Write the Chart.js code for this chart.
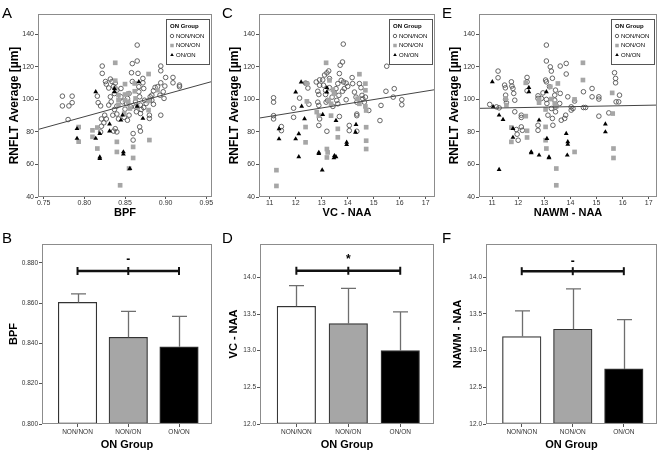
<!DOCTYPE html>
<html>
<head>
<meta charset="utf-8">
<script src="https://cdn.jsdelivr.net/npm/chart.js"></script>
<style>
  body { margin: 0; background: #fff; }
  #wrap { position: relative; width: 662px; height: 454px; font-family: "Liberation Sans", Arial, sans-serif; }
  .panel { position: absolute; }
  .letter { position: absolute; font-size: 15px; line-height: 15px; color: #000; }
</style>
</head>
<body>
<div id="wrap">
  <div class="panel" style="left:0;top:0"><canvas id="chartA" width="220" height="220"></canvas></div>
  <div class="panel" style="left:220px;top:0"><canvas id="chartC" width="220" height="220"></canvas></div>
  <div class="panel" style="left:440px;top:0"><canvas id="chartE" width="222" height="220"></canvas></div>
  <div class="panel" style="left:0;top:220px"><canvas id="chartB" width="220" height="234"></canvas></div>
  <div class="panel" style="left:220px;top:220px"><canvas id="chartD" width="220" height="234"></canvas></div>
  <div class="panel" style="left:440px;top:220px"><canvas id="chartF" width="222" height="234"></canvas></div>
  <div class="letter" style="left:2px;top:5px">A</div>
  <div class="letter" style="left:222px;top:5px">C</div>
  <div class="letter" style="left:442px;top:5px">E</div>
  <div class="letter" style="left:2px;top:230px">B</div>
  <div class="letter" style="left:222px;top:230px">D</div>
  <div class="letter" style="left:442px;top:230px">F</div>
</div>
<script>
const groups = ['NON/NON', 'NON/ON', 'ON/ON'];

// scatter ticks
const rnfltTicks = [40, 60, 80, 100, 120, 140];
const bpfTicks = [0.75, 0.80, 0.85, 0.90, 0.95];
const naaTicks = [11, 12, 13, 14, 15, 16, 17];

// A: BPF vs RNFLT
const bpfNonNon = [[0.773,102],[0.773,96],[0.781,96],[0.785,102],[0.785,98],[0.780,87.6],
  [0.816,102],[0.817,98],[0.82,96],[0.821,88],[0.821,83.5],[0.82,80],[0.824,85.6],
  [0.822,120.5],[0.822,116],[0.826,111],[0.827,109.4],[0.83,107],[0.832,112.5],[0.834,111],[0.836,108],
  [0.838,110],[0.84,105.7],[0.837,103.6],[0.832,101.6],[0.83,96.5],[0.833,98.5],[0.827,88],[0.825,90.3],
  [0.835,90.3],[0.837,93.8],[0.84,95.9],[0.84,91],[0.838,82],[0.84,80],[0.836,80.5],
  [0.845,101.6],[0.845,106.7],[0.847,98.5],[0.842,88],[0.849,89],[0.85,94],[0.852,97.5],[0.853,100.6],
  [0.855,103.6],[0.855,90.3],[0.853,87.2],[0.857,95.4],[0.859,122],[0.858,116.4],[0.859,111],[0.86,79],
  [0.86,75],[0.863,98.5],[0.863,95.4],[0.864,92.4],[0.865,133.4],[0.865,123.6],[0.866,116],[0.867,107.8],
  [0.867,104.7],[0.868,101.6],[0.869,96.5],[0.87,93.8],[0.869,91.3],[0.868,83.1],[0.869,80.5],
  [0.872,112.9],[0.872,110.2],[0.873,106.7],[0.874,99.5],[0.876,97.5],[0.873,95],
  [0.881,101.6],[0.88,99.5],[0.883,102.6],[0.883,99.5],[0.885,105.3],[0.885,97],[0.88,90.3],[0.88,88.3],
  [0.887,107.4],[0.89,107.8],[0.893,102.6],[0.894,120.5],[0.894,117.6],[0.894,110.2],[0.894,90.3],
  [0.897,104.7],[0.898,100.6],[0.899,108.2],[0.9,113.5],[0.909,113.5],[0.909,110.2],[0.917,108.8],[0.917,107.8]];
const bpfNonOn = [[0.838,122.5],[0.838,111.5],[0.838,106.7],[0.842,96.5],[0.842,102.6],[0.842,99.5],
  [0.85,109.4],[0.85,103],[0.85,99.5],[0.849,91.3],[0.854,103.6],[0.854,98.5],[0.856,94.4],[0.862,109.8],
  [0.862,105],[0.863,100.6],[0.865,95.4],[0.86,70.8],[0.86,64],[0.855,57.5],[0.844,47.2],[0.84,73.9],
  [0.84,67.7],[0.879,115.6],[0.879,99],[0.879,93.4],[0.88,75],[0.89,105.7],[0.81,81],[0.81,77],
  [0.816,82.7],[0.816,69.8],[0.793,83],[0.793,74]];
const bpfOnOn = [[0.791,82],[0.791,76],[0.814,104.7],[0.819,79],[0.814,76],[0.819,64.6],[0.819,63.6],
  [0.831,84.8],[0.831,80.5],[0.837,106.7],[0.837,104.7],[0.845,87.2],[0.847,90.3],[0.848,67.7],
  [0.848,66.3],[0.856,57.5],[0.865,95.8],[0.867,110.8],[0.872,88.3]];
const bpfFit = [[0.743,81.5],[0.957,111]];

// C: VC-NAA vs RNFLT
const vcNonNon = [[11.15,101],[11.15,98.3],[11.15,90],[11.15,88],[11.45,83.3],[11.45,80.8],[11.92,89],
  [11.92,94.6],[12.15,100.8],[12.38,110],[12.43,109.7],[12.47,107],[12.51,97],[12.79,110.7],[12.85,105],
  [12.89,103],[12.92,112],[12.92,108.7],[12.85,98.3],[12.89,96.3],[12.92,88],[12.89,84],[13.04,112],
  [13.07,108.7],[13.11,115],[13.2,116.3],[13.27,117.5],[13.3,112.8],[13.3,107.2],[13.15,105.6],[13.15,103],
  [13.17,98.3],[13.23,99.4],[13.2,80.4],[13.43,95.7],[13.4,101.4],[13.49,104],[13.55,106.6],[13.58,99.4],
  [13.62,97.3],[13.62,109.7],[13.66,102.5],[13.68,115.9],[13.71,121],[13.8,123],[13.8,105],[13.83,134],
  [13.75,111.7],[13.84,110.7],[13.68,89.5],[13.87,106.6],[13.94,99.8],[13.94,110],[14,108],[14.06,84],
  [14.06,80.8],[14.17,113.4],[14.19,109.7],[14.26,104.5],[14.32,101.4],[14.35,98.3],[14.35,91],[14.35,90],
  [14.35,80.4],[14.45,109.7],[14.51,107.2],[14.55,102.5],[14.58,100.4],[14.64,98.3],[14.68,101.4],
  [14.81,93.2],[15.24,87],[15.28,96.3],[15.5,120.4],[15.47,105],[15.79,106.6],[15.75,101.4],[16.08,99.8],[16.08,96.7]];
const vcNonOn = [[13.17,122.5],[13.3,111.7],[13.27,99.4],[13.36,97.3],[13.43,106],[13.49,103.5],[12.81,92.2],
  [12.89,90],[12.43,109.7],[12.43,98.8],[12.38,83],[12.38,73.6],[13.2,69.5],[13.2,64.3],[13.23,67.4],
  [13.36,90],[13.62,81.9],[13.62,76.7],[11.26,56.5],[11.26,46.8],[14.45,115.5],[14.38,100.4],[14.45,97.3],
  [14.68,109.7],[14.68,105.6],[14.71,93.2],[14.71,82.9],[14.71,74.6],[14.71,69.5],[14.68,95.7]];
const vcOnOn = [[11.36,81.9],[11.36,75.7],[12,75.7],[12,104.5],[12.12,78.8],[12.12,64.7],[12.21,110.7],
  [12.23,95.7],[12.34,88],[12.89,67.4],[12.89,66.7],[13.02,56.5],[13.04,90.7],[13.2,107.2],[13.2,104.5],
  [13.49,65.4],[13.55,64.7],[13.47,64],[13.55,87],[13.96,73.6],[13.96,72.2],[14.3,79.8],[14.32,84.5]];
const vcFit = [[10.59,88.5],[17.36,106]];

// E: NAWM-NAA vs RNFLT
const nawmNonNon = [[10.91,96.9],[11.17,95.4],[11.23,117.4],[11.23,113.3],[11.27,94.8],[11.48,108.8],
  [11.51,107.1],[11.52,102.6],[11.52,100],[11.55,97.9],[11.74,110.8],[11.76,108.2],[11.8,106.7],[11.83,103.7],
  [11.87,99.5],[11.87,92.4],[11.93,81.5],[11.96,78.6],[12,74.9],[12.12,90.3],[12.12,88.9],[12.12,83.1],
  [12.16,81],[12.34,113.5],[12.34,110.8],[12.34,105.3],[12.76,102.2],[12.76,100.6],[12.76,84.1],[12.76,81],
  [12.89,100.6],[12.95,104],[13.05,111.9],[13.08,110.8],[13.08,133.4],[13.08,123.6],[13.08,100],[13.1,97.5],
  [13.14,90.3],[13.23,120],[13.27,117.4],[13.31,113],[13.2,107.8],[13.27,94.4],[13.31,88.3],[13.33,84.1],
  [13.4,102.6],[13.4,99.5],[13.43,105.7],[13.43,95.4],[13.43,92.4],[13.61,120.5],[13.59,97.5],[13.61,103.7],
  [13.65,87.2],[13.78,88.3],[13.82,90.3],[13.84,122.1],[13.84,115.6],[13.9,101.6],[14.03,95.4],[14.03,93.4],
  [14.1,94.4],[14.16,99],[14.5,104.7],[14.5,95],[14.58,95],[14.83,106.7],[14.83,101.6],[15.09,101.6],
  [15.09,100.2],[15.09,89.7],[15.47,91.7],[15.69,116.4],[15.73,112.9],[15.73,110.2],[15.75,98.5],
  [15.85,98.5],[15.88,102.6]];
const nawmNonOn = [[11.55,96.5],[11.52,100.5],[11.74,82.7],[11.74,73.9],[12.29,110.2],[12.29,89.7],
  [12.34,76.6],[12.34,80.7],[12.8,100],[12.8,98],[13.05,93.8],[13.05,83.1],[13.05,74.9],[13.08,69.8],
  [13.23,107.8],[13.27,100.2],[13.4,97.5],[13.46,95.8],[13.52,109.8],[13.46,57.5],[13.46,47.2],[14.16,67.7],
  [14.16,100],[14.48,122.5],[14.48,111.9],[15.6,104],[15.62,91.3],[15.65,69.8],[15.65,64]];
const nawmOnOn = [[11.01,110.8],[11.04,95.4],[11.27,90.3],[11.27,56.8],[11.42,87.6],[11.8,82.1],[11.8,76.6],
  [12.41,107.3],[12.41,104.7],[12.5,67.7],[12.5,67.1],[12.8,65.7],[12.8,87.2],[13.1,75.9],[13.18,64.6],
  [13.18,64],[13.08,104.7],[13.9,73.9],[13.9,72.4],[13.84,79],[13.88,65.7],[15.34,84.8],[15.34,80]];
const nawmFit = [[10.5,94.5],[17.32,96.5]];

// bar panels: group means and upper error limits
const bpfMeans = [0.8603, 0.843, 0.8383];
const bpfUpper = [0.8646, 0.8559, 0.8534];
const vcMeans = [13.605, 13.368, 13.0];
const vcUpper = [13.886, 13.85, 13.53];
const nawmMeans = [13.19, 13.29, 12.75];
const nawmUpper = [13.54, 13.84, 13.42];
const bpfBarTicks = [0.80, 0.82, 0.84, 0.86, 0.88];
const naaBarTicks = [12.0, 12.5, 13.0, 13.5, 14.0];

Chart.defaults.font.family = '"Liberation Sans", Arial, sans-serif';
Chart.defaults.animation = false;

const frame = {
    id: 'frame',
    afterDatasetsDraw(chart) {
        const a = chart.chartArea;
        const ctx = chart.ctx;
        ctx.save();
        ctx.strokeStyle = '#8c8c8c';
        ctx.lineWidth = 1;
        ctx.strokeRect(Math.round(a.left) + 0.5, Math.round(a.top) + 0.5,
            Math.round(a.right - a.left) - 1, Math.round(a.bottom - a.top) - 1);
        ctx.restore();
    }
};

const groupLegend = {
    id: 'groupLegend',
    afterDraw(chart) {
        const a = chart.chartArea;
        const ctx = chart.ctx;
        const w = 43, h = 45;
        const x = Math.round(a.right - 3 - w), y = Math.round(a.top + 5);
        ctx.save();
        ctx.fillStyle = '#fff';
        ctx.fillRect(x, y, w, h);
        ctx.strokeStyle = '#555';
        ctx.lineWidth = 1;
        ctx.strokeRect(x + 0.5, y + 0.5, w, h);
        ctx.fillStyle = '#000';
        ctx.textBaseline = 'middle';
        ctx.font = 'bold 6px "Liberation Sans"';
        ctx.fillText('ON Group', x + 4, y + 7);
        ctx.font = '6px "Liberation Sans"';
        chart.data.datasets.slice(0, 3).forEach((ds, i) => {
            const ry = y + 17 + i * 9.5;
            ctx.fillStyle = ds.backgroundColor;
            ctx.strokeStyle = ds.borderColor || ds.backgroundColor;
            ctx.lineWidth = ds.borderWidth;
            Chart.helpers.drawPoint(ctx, {
                pointStyle: ds.pointStyle, radius: ds.pointRadius * 0.75,
                rotation: 0, borderWidth: ds.borderWidth
            }, x + 6, ry);
            ctx.fillStyle = '#000';
            ctx.fillText(ds.label, x + 10, ry);
        });
        ctx.restore();
    }
};

function tickSetter(vals) {
    return scale => { scale.ticks = vals.map(v => ({ value: v })); };
}

function axisBase(size) {
    return {
        grid: { drawOnChartArea: false, tickLength: 3, color: '#555' },
        border: { display: false },
        ticks: { autoSkip: false, maxRotation: 0, padding: 1, color: '#333', font: { size: size } }
    };
}

function scatterPanel(id, cfg) {
    const pts = arr => arr.map(p => ({ x: p[0], y: p[1] }));
    const xAxis = axisBase(7);
    xAxis.type = 'linear';
    xAxis.min = cfg.xMin;
    xAxis.max = cfg.xMax;
    xAxis.afterBuildTicks = tickSetter(cfg.xTicks);
    xAxis.afterFit = s => { s.height = 23; };
    xAxis.grid.tickLength = 2;
    xAxis.ticks.padding = 0;
    xAxis.ticks.callback = v => v.toFixed(cfg.xDigits);
    xAxis.title = { display: true, text: cfg.xTitle, color: '#000',
        font: { size: 11, weight: 'bold' }, padding: { top: 0, bottom: 0 } };

    const yAxis = axisBase(7);
    yAxis.min = 40;
    yAxis.max = 152.5;
    yAxis.afterBuildTicks = tickSetter(rnfltTicks);
    yAxis.afterFit = s => { s.width = cfg.yWidth; };
    yAxis.title = { display: true, text: 'RNFLT Average [µm]', color: '#000',
        font: { size: 12, weight: 'bold' }, padding: { top: 7, bottom: 0 } };

    return new Chart(document.getElementById(id), {
        type: 'scatter',
        data: {
            datasets: [
                { label: groups[0], data: pts(cfg.nonNon), pointStyle: 'circle', pointRadius: 2.3,
                  backgroundColor: 'rgba(255,255,255,0)', borderColor: '#555', borderWidth: 0.9, order: 3 },
                { label: groups[1], data: pts(cfg.nonOn), pointStyle: 'rect', pointRadius: 3.3,
                  backgroundColor: '#a6a6a6', borderColor: '#a6a6a6', borderWidth: 0, order: 2 },
                { label: groups[2], data: pts(cfg.onOn), pointStyle: 'triangle', pointRadius: 2.8,
                  backgroundColor: '#000', borderColor: '#000', borderWidth: 0, order: 1 },
                { type: 'line', data: pts(cfg.fit), borderColor: '#444', borderWidth: 1,
                  pointRadius: 0, order: 0 }
            ]
        },
        options: {
            responsive: false,
            events: [],
            layout: { padding: { top: 14, right: cfg.padRight, left: 0, bottom: 0 } },
            plugins: { legend: { display: false }, tooltip: { enabled: false } },
            scales: { x: xAxis, y: yAxis }
        },
        plugins: [frame, groupLegend]
    });
}

function sigPlugin(upper, sig) {
    return {
        id: 'sig',
        afterDatasetsDraw(chart) {
            const ctx = chart.ctx;
            const xs = chart.scales.x, ys = chart.scales.y;
            const ds = chart.data.datasets[0];
            ctx.save();
            ctx.strokeStyle = '#6e6e6e';
            ctx.lineWidth = 1.3;
            ds.data.forEach((d, i) => {
                const px = Math.round(xs.getPixelForValue(d.x)) + 0.5;
                const top = ys.getPixelForValue(upper[i]);
                ctx.beginPath();
                ctx.moveTo(px, ys.getPixelForValue(d.y));
                ctx.lineTo(px, top);
                ctx.moveTo(px - 7.5, top);
                ctx.lineTo(px + 7.5, top);
                ctx.stroke();
            });
            const by = ys.getPixelForValue(sig.level);
            const cx = [0, 1, 2].map(v => xs.getPixelForValue(v));
            ctx.strokeStyle = '#111';
            ctx.lineWidth = 2.4;
            ctx.beginPath();
            ctx.moveTo(cx[0], by);
            ctx.lineTo(cx[2], by);
            ctx.stroke();
            ctx.lineWidth = 2;
            cx.forEach(px => {
                ctx.beginPath();
                ctx.moveTo(px, by - 4);
                ctx.lineTo(px, by + 4);
                ctx.stroke();
            });
            ctx.fillStyle = '#000';
            ctx.font = 'bold 12px "Liberation Sans"';
            ctx.textAlign = 'center';
            ctx.textBaseline = 'middle';
            ctx.fillText(sig.mark, cx[1], ys.getPixelForValue(sig.markAt));
            ctx.restore();
        }
    };
}

function barPanel(id, cfg) {
    const xAxis = axisBase(6.5);
    xAxis.type = 'linear';
    xAxis.min = -0.7;
    xAxis.max = 2.65;
    xAxis.offset = false;
    xAxis.grid.offset = false;
    xAxis.afterBuildTicks = tickSetter([0, 1, 2]);
    xAxis.afterFit = s => { s.height = 30; };
    xAxis.ticks.callback = v => groups[v];
    xAxis.title = { display: true, text: 'ON Group', color: '#000',
        font: { size: 11, weight: 'bold' }, padding: { top: 0, bottom: 2 } };

    const yAxis = axisBase(6.5);
    yAxis.min = cfg.yMin;
    yAxis.max = cfg.yMax;
    yAxis.beginAtZero = false;
    yAxis.afterBuildTicks = tickSetter(cfg.yTicks);
    yAxis.afterFit = s => { s.width = cfg.yWidth; };
    yAxis.ticks.callback = v => v.toFixed(cfg.yDigits);
    yAxis.title = { display: true, text: cfg.yTitle, color: '#000',
        font: { size: 11, weight: 'bold' }, padding: { top: cfg.titlePad, bottom: 0 } };

    return new Chart(document.getElementById(id), {
        type: 'bar',
        data: {
            datasets: [{
                data: cfg.means.map((v, i) => ({ x: i, y: v })),
                backgroundColor: ['#ffffff', '#a6a6a6', '#000000'],
                borderColor: '#333',
                borderWidth: 1.2,
                borderSkipped: false,
                barThickness: 38.5,
                base: cfg.yMin
            }]
        },
        options: {
            responsive: false,
            events: [],
            layout: { padding: { top: 24, right: cfg.padRight, left: 0, bottom: 0 } },
            plugins: { legend: { display: false }, tooltip: { enabled: false } },
            scales: { x: xAxis, y: yAxis }
        },
        plugins: [sigPlugin(cfg.upper, cfg.sig), frame]
    });
}

window.onload = () => {
    scatterPanel('chartA', { xMin: 0.743, xMax: 0.957, xTicks: bpfTicks, xDigits: 2, xTitle: 'BPF',
        yWidth: 38, padRight: 8, nonNon: bpfNonNon, nonOn: bpfNonOn, onOn: bpfOnOn, fit: bpfFit });
    scatterPanel('chartC', { xMin: 10.59, xMax: 17.36, xTicks: naaTicks, xDigits: 0, xTitle: 'VC - NAA',
        yWidth: 39, padRight: 4, nonNon: vcNonNon, nonOn: vcNonOn, onOn: vcOnOn, fit: vcFit });
    scatterPanel('chartE', { xMin: 10.5, xMax: 17.32, xTicks: naaTicks, xDigits: 0, xTitle: 'NAWM - NAA',
        yWidth: 39, padRight: 4, nonNon: nawmNonNon, nonOn: nawmNonOn, onOn: nawmOnOn, fit: nawmFit });

    barPanel('chartB', { means: bpfMeans, upper: bpfUpper, yMin: 0.8, yMax: 0.8893, yTicks: bpfBarTicks,
        yDigits: 3, yTitle: 'BPF', yWidth: 42, padRight: 8, titlePad: 7,
        sig: { level: 0.8759, mark: '-', markAt: 0.8817 } });
    barPanel('chartD', { means: vcMeans, upper: vcUpper, yMin: 12, yMax: 14.455, yTicks: naaBarTicks,
        yDigits: 1, yTitle: 'VC - NAA', yWidth: 40, padRight: 6, titlePad: 7,
        sig: { level: 14.09, mark: '*', markAt: 14.236 } });
    barPanel('chartF', { means: nawmMeans, upper: nawmUpper, yMin: 12, yMax: 14.45, yTicks: naaBarTicks,
        yDigits: 1, yTitle: 'NAWM - NAA', yWidth: 46, padRight: 5, titlePad: 11,
        sig: { level: 14.08, mark: '-', markAt: 14.21 } });
};
</script>
</body>
</html>
